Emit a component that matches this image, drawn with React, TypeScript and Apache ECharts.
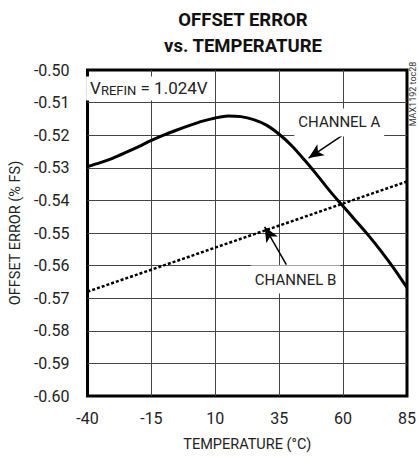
import React, { useEffect, useRef } from 'react';
import * as echarts from 'echarts';

// Temperatures (°C) and offset error (% FS)
const tempsA = [-40, -35, -30, -25, -20, -15, -10, -5, 0, 5, 10, 15, 20, 25, 30, 35, 40, 45, 50, 55, 60, 65, 70, 75, 80, 85];
const valuesA = [
  -0.5296, -0.5284, -0.527, -0.5253, -0.5235, -0.5216, -0.5199, -0.5184, -0.517, -0.5157, -0.5147, -0.5141, -0.5143,
  -0.5152, -0.5169, -0.5197, -0.5233, -0.5277, -0.5324, -0.5373, -0.5418, -0.5463, -0.5508, -0.5557, -0.561, -0.5668,
];
const tempsB = [-40, 85];
const valuesB = [-0.568, -0.5342];

const X_OFFSET = 40; // axis runs 0..125 so ticks start at a multiple of the interval

const FONT = "Roboto, 'Liberation Sans', sans-serif";

export default function App() {
  const ref = useRef<HTMLDivElement>(null);
  useEffect(() => {
    document.body.style.margin = '0';
    if (!ref.current) return;
    const chart = echarts.init(ref.current, null, { renderer: 'svg' });
    const toXY = (ts: number[], vs: number[]) => ts.map((t, i) => [t + X_OFFSET, vs[i]]);
    chart.setOption({
      animation: false,
      backgroundColor: '#fff',
      title: {
        text: 'OFFSET ERROR\nvs. TEMPERATURE',
        left: 243,
        top: 7,
        padding: 0,
        textAlign: 'center',
        textStyle: { fontFamily: FONT, fontSize: 18.5, fontWeight: 'bold', lineHeight: 26, color: '#111' },
      },
      grid: { left: 81, right: 12, top: 70, bottom: 60.5, show: true, borderColor: '#000', borderWidth: 3, backgroundColor: 'transparent' },
      xAxis: {
        type: 'value',
        min: 0,
        max: 125,
        interval: 25,
        name: 'TEMPERATURE (°C)',
        nameLocation: 'middle',
        nameGap: 41,
        nameTextStyle: { fontFamily: FONT, fontSize: 14.5, color: '#222' },
        axisLine: { show: false },
        axisTick: { show: false },
        axisLabel: { margin: 14, fontFamily: FONT, fontSize: 16, color: '#222', formatter: (v: number) => String(v - X_OFFSET) },
        splitLine: { show: true, showMinLine: false, showMaxLine: false, lineStyle: { color: '#444', width: 1 } },
      },
      yAxis: {
        type: 'value',
        min: -0.6,
        max: -0.5,
        interval: 0.01,
        name: 'OFFSET ERROR (% FS)',
        nameLocation: 'middle',
        nameGap: 54,
        nameTextStyle: { fontFamily: FONT, fontSize: 14.5, color: '#222' },
        axisLine: { show: false },
        axisTick: { show: false },
        axisLabel: { margin: 18, fontFamily: FONT, fontSize: 16, color: '#222', formatter: (v: number) => v.toFixed(2) },
        splitLine: { show: true, showMinLine: false, showMaxLine: false, lineStyle: { color: '#444', width: 1 } },
      },
      series: [
        {
          name: 'CHANNEL B',
          type: 'line',
          data: toXY(tempsB, valuesB),
          showSymbol: false,
          lineStyle: { color: '#000', width: 2.5, type: [3, 2] },
          z: 3,
        },
        {
          name: 'CHANNEL A',
          type: 'line',
          data: toXY(tempsA, valuesA),
          smooth: 0.3,
          showSymbol: false,
          lineStyle: { color: '#000', width: 3 },
          z: 4,
          markLine: {
            silent: true,
            symbol: ['none', 'arrow'],
            symbolSize: [10, 15],
            label: { show: false },
            lineStyle: { color: '#000', width: 1.5, type: 'solid' },
            data: [
              [{ coord: [60 + X_OFFSET, -0.5199] }, { coord: [46.5 + X_OFFSET, -0.527] }],
              [{ coord: [37.8 + X_OFFSET, -0.5597] }, { coord: [29.3 + X_OFFSET, -0.5481] }],
            ],
          },
          markPoint: {
            silent: true,
            symbol: 'circle',
            symbolSize: 0,
            itemStyle: { color: 'transparent' },
            label: {
              show: true,
              position: 'inside',
              fontFamily: FONT,
              fontSize: 15,
              color: '#222',
              backgroundColor: '#fff',
              padding: [5, 4, 5, 4],
              lineHeight: 18,
            },
            data: [
              { name: 'a', coord: [58.5 + X_OFFSET, -0.5161], label: { formatter: 'CHANNEL A' } },
              { name: 'b', coord: [41.4 + X_OFFSET, -0.5643], label: { formatter: 'CHANNEL B' } },
              {
                name: 'v',
                coord: [-16 + X_OFFSET, -0.50567],
                label: {
                  formatter: '{v|V}{s|REFIN}{t| = 1.024V}',
                  padding: [2, 4, 2, 4],
                  rich: {
                    v: { fontFamily: FONT, fontSize: 17, lineHeight: 20, color: '#222' },
                    s: { fontFamily: FONT, fontSize: 13, lineHeight: 20, color: '#222', padding: [5, 0, 0, 0] },
                    t: { fontFamily: FONT, fontSize: 17, lineHeight: 20, color: '#222' },
                  },
                },
              },
            ],
          },
        },
      ],
      graphic: [
        {
          type: 'text',
          x: 412.5,
          y: 94,
          rotation: Math.PI / 2,
          style: { text: 'MAX1192 toc28', fontFamily: FONT, fontSize: 9, fill: '#333', align: 'center', verticalAlign: 'middle' },
        },
      ],
    });
    return () => chart.dispose();
  }, []);
  return <div ref={ref} style={{ width: 419, height: 457 }} />;
}
